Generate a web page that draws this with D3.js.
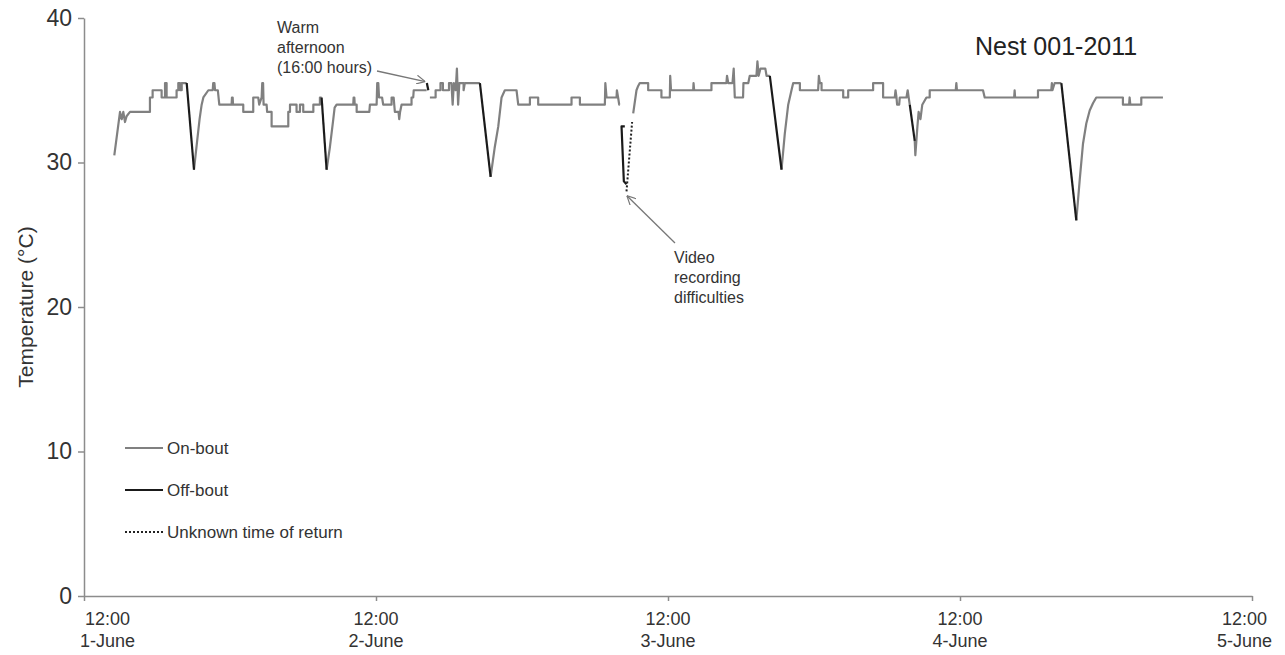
<!DOCTYPE html>
<html>
<head>
<meta charset="utf-8">
<script src="https://cdn.jsdelivr.net/npm/d3@7"></script>
<style>
  body { margin: 0; background: #fff; }
  svg { font-family: "Liberation Sans", Arial, sans-serif; }
</style>
</head>
<body>
<div class="container"></div>
<script>
// nest temperature, [hours after 12:00 on 1-June, deg C]
var onBout = [
  [[2.49,30.5],[2.96,33.5],[3.10,33],[3.23,33.5],[3.37,32.8],[3.5,33.2],[3.78,33.5],[5.42,33.5],[5.42,34.5],[5.64,34.5],[5.64,35],[6.38,35],[6.38,34.5],[6.66,34.5],[6.66,35.5],[6.79,35.5],[6.79,34.5],[7.61,34.5],[7.61,35],[7.75,35],[7.75,35.5],[7.89,35.5],[7.89,35],[8.03,35],[8.03,35.5],[8.44,35.5]],
  [[9.04,29.5],[9.3,31.5],[9.5,33],[9.67,34],[9.81,34.5],[10.22,35],[10.58,35],[10.62,35.5],[10.72,35.5],[10.77,35],[11.0,35],[11.12,34],[12.13,34],[12.16,34.5],[12.22,34.5],[12.25,34],[13.09,34],[13.09,33.5],[13.91,33.5],[13.91,34.5],[14.32,34.5],[14.4,34],[14.6,34.5],[14.65,35.5],[14.72,35.5],[14.76,34],[15.01,34],[15.05,33.5],[15.42,33.5],[15.42,32.5],[16.79,32.5],[16.79,33.5],[16.93,33.5],[16.93,34],[17.47,34],[17.47,33.5],[17.75,33.5],[17.75,34],[18.02,34],[18.02,33.5],[18.85,33.5],[18.85,34],[19.39,34],[19.39,34.5],[19.53,34.5]],
  [[19.94,29.5],[20.2,31],[20.49,33],[20.6,33.8],[20.76,34],[22.13,34],[22.16,34.5],[22.22,34.5],[22.25,34],[22.41,34],[22.41,33.5],[23.45,33.5],[23.5,34],[24.05,34],[24.1,35.5],[24.19,35.5],[24.25,34.5],[24.5,34.5],[24.59,34],[25.28,34],[25.28,34.5],[25.45,34.5],[25.55,33.5],[25.85,33.5],[25.91,33],[25.98,33.5],[26.1,34],[26.92,34],[26.92,34.5],[27.06,34.5],[27.1,35],[28.16,35]],
  [[28.43,34.5],[28.9,34.5],[28.9,35],[29.3,35],[29.3,35.5],[29.5,35.5],[29.5,35],[30.0,35],[30.0,35.5],[30.2,35.5],[30.3,34],[30.4,35.5],[30.55,35],[30.65,36.5],[30.75,34],[30.85,35.5],[31.2,35.5],[31.2,35],[31.3,35.5],[32.54,35.5]],
  [[33.42,29],[33.75,31],[34.05,32.5],[34.32,34.5],[34.59,35],[35.55,35],[35.69,34],[36.65,34],[36.65,34.5],[37.33,34.5],[37.33,34],[40.07,34],[40.07,34.5],[40.76,34.5],[40.76,34],[42.81,34],[42.85,35.5],[42.95,34.5],[43.77,34.5],[43.8,35],[43.9,34.5],[43.99,34],[44.04,34]],
  [[45.14,33.4],[45.41,35],[45.55,35.3],[45.68,35.5],[46.37,35.5],[46.37,35],[47.46,35],[47.46,34.5],[48.15,34.5],[48.18,36],[48.25,35],[50.07,35],[50.1,35.5],[50.15,35],[51.57,35],[51.57,35.5],[52.8,35.5],[52.85,36],[52.95,35.5],[53.3,35.5],[53.4,36.5],[53.49,34.5],[54.17,34.5],[54.2,35.5],[54.6,35.5],[54.72,36],[55.27,36],[55.35,37],[55.45,36],[55.6,36.5],[56.0,36.5],[56.1,36],[56.37,36]],
  [[57.33,29.5],[57.6,32],[57.88,34],[58.15,35],[58.29,35.5],[58.84,35.5],[58.84,35],[60.34,35],[60.4,36],[60.48,35.5],[60.62,35.5],[60.62,35],[62.4,35],[62.4,34.5],[62.81,34.5],[62.81,35],[64.86,35],[64.86,35.5],[65.68,35.5],[65.68,34.5],[66.64,34.5],[66.7,35],[66.78,34.5],[66.83,34],[67.0,34],[67.05,34.5],[67.6,34.5],[67.7,35],[67.78,34.5],[67.87,34]],
  [[68.28,31.5],[68.33,30.5],[68.5,32.5],[68.6,33.5],[68.75,33],[68.9,34],[69.24,34.5],[69.51,34.5],[69.51,35],[71.65,35],[71.7,35.5],[71.75,35],[73.89,35],[74.03,34.5],[76.45,34.5],[76.49,35],[76.53,34.5],[78.41,34.5],[78.41,35],[79.5,35],[79.55,35.5],[79.6,35],[79.78,35.5],[80.33,35.5]],
  [[81.56,26],[81.84,28.8],[82.11,31.3],[82.38,32.7],[82.66,33.6],[82.93,34.1],[83.2,34.5],[85.39,34.5],[85.39,34],[85.9,34],[85.94,34.5],[86.0,34],[86.9,34],[86.9,34.5],[88.68,34.5]]
];
var offBout = [
  [[8.44,35.5],[9.04,29.5]],
  [[19.53,34.5],[19.94,29.5]],
  [[28.18,35.5],[28.3,35]],
  [[32.54,35.5],[33.42,29]],
  [[44.45,32.5],[44.18,32.5],[44.37,28.7],[44.59,28.5]],
  [[56.37,36],[57.33,29.5]],
  [[67.87,34],[68.28,31.5]],
  [[80.33,35.5],[81.56,26]]
];
var unknownReturn = [[44.59,28],[45.05,32.8]];

var yTicks = [0, 10, 20, 30, 40];
var xTicks = [0, 24, 48, 72, 96];
var xTimeLabels = ["12:00", "12:00", "12:00", "12:00", "12:00"];
var xDayLabels = ["1-June", "2-June", "3-June", "4-June", "5-June"];
var legendLabels = ["On-bout", "Off-bout", "Unknown time of return"];

var width = 1285, height = 655;
var grey = "#808080", axisGrey = "#8c8c8c", textCol = "#333";

var svg = d3.select(".container").append("svg")
  .attr("width", width).attr("height", height);

var x = d3.scaleLinear().domain([0, 96]).range([84, 1252]);
var y = d3.scaleLinear().domain([0, 40]).range([596, 18]);

// y axis
var yAxis = svg.append("g")
  .attr("transform", "translate(84,0)")
  .call(d3.axisLeft(y).tickValues(yTicks).tickSize(6).tickSizeOuter(0).tickPadding(6));
yAxis.attr("font-family", null).attr("font-size", null);
yAxis.select(".domain").attr("stroke", axisGrey).attr("stroke-width", 1.5);
yAxis.selectAll(".tick line").attr("stroke", axisGrey).attr("stroke-width", 1.5);
yAxis.selectAll(".tick text").attr("font-size", 23).attr("fill", textCol);

// x axis
var xAxis = svg.append("g")
  .attr("transform", "translate(0,596)")
  .call(d3.axisBottom(x).tickValues(xTicks).tickSize(5).tickSizeOuter(0).tickFormat(""));
xAxis.select(".domain").attr("stroke", axisGrey).attr("stroke-width", 1.5);
xAxis.selectAll(".tick line").attr("stroke", axisGrey).attr("stroke-width", 1.5);

var xLab = svg.append("g").attr("font-size", 18).attr("fill", textCol).attr("text-anchor", "middle");
xTicks.forEach(function(t, i) {
  var g = xLab.append("text").attr("x", x(t)).attr("y", 625);
  g.append("tspan").attr("x", x(t)).text(xTimeLabels[i]);
  g.append("tspan").attr("x", x(t)).attr("dy", 22).text(xDayLabels[i]);
  // keep labels inside the chart area like the original
  var bb = g.node().getBBox();
  var shift = 0;
  if (bb.x < 80) shift = 80 - bb.x;
  if (bb.x + bb.width > 1272) shift = 1272 - (bb.x + bb.width);
  g.selectAll("tspan").attr("x", x(t) + shift);
});

// y title
svg.append("text")
  .attr("transform", "translate(33,307) rotate(-90)")
  .attr("text-anchor", "middle")
  .attr("font-size", 21).attr("fill", textCol)
  .text("Temperature (°C)");

// chart title
svg.append("text").attr("x", 975).attr("y", 55)
  .attr("font-size", 25).attr("fill", "#222")
  .text("Nest 001-2011");

var line = d3.line().x(function(d) { return x(d[0]); }).y(function(d) { return y(d[1]); });

svg.selectAll("path.on").data(onBout).enter().append("path")
  .attr("class", "on").attr("d", line)
  .attr("fill", "none").attr("stroke", grey).attr("stroke-width", 2.2)
  .attr("stroke-linejoin", "round");

svg.selectAll("path.off").data(offBout).enter().append("path")
  .attr("class", "off").attr("d", line)
  .attr("fill", "none").attr("stroke", "#1a1a1a").attr("stroke-width", 2.2)
  .attr("stroke-linejoin", "round");

svg.append("path").datum(unknownReturn).attr("d", line)
  .attr("fill", "none").attr("stroke", "#222").attr("stroke-width", 2)
  .attr("stroke-dasharray", "2,2");

// legend
var legStyles = [
  { stroke: grey, dash: null, w: 2.2 },
  { stroke: "#1a1a1a", dash: null, w: 2.2 },
  { stroke: "#222", dash: "2,2", w: 1.8 }
];
var leg = svg.selectAll("g.leg").data(legendLabels).enter().append("g")
  .attr("class", "leg")
  .attr("transform", function(d, i) { return "translate(125," + (448 + i * 42) + ")"; });
leg.append("line").attr("x1", 0).attr("x2", 38).attr("y1", 0).attr("y2", 0)
  .attr("stroke", function(d, i) { return legStyles[i].stroke; })
  .attr("stroke-width", function(d, i) { return legStyles[i].w; })
  .attr("stroke-dasharray", function(d, i) { return legStyles[i].dash; });
leg.append("text").attr("x", 42).attr("y", 6)
  .attr("font-size", 17).attr("fill", textCol)
  .text(function(d) { return d; });

// annotations
var defs = svg.append("defs");
defs.append("marker").attr("id", "arrow")
  .attr("viewBox", "0 0 10 10").attr("refX", 10).attr("refY", 5)
  .attr("markerWidth", 9).attr("markerHeight", 9).attr("orient", "auto")
  .attr("markerUnits", "userSpaceOnUse")
  .append("path").attr("d", "M0,0 L10,5 L0,10")
  .attr("fill", "none").attr("stroke", "#777").attr("stroke-width", 1.3);

function note(lines, tx, ty, from, to) {
  var t = svg.append("text").attr("font-size", 16).attr("fill", textCol);
  lines.forEach(function(s, i) {
    t.append("tspan").attr("x", tx).attr("y", ty + i * 20).text(s);
  });
  svg.append("line")
    .attr("x1", from[0]).attr("y1", from[1]).attr("x2", to[0]).attr("y2", to[1])
    .attr("stroke", "#777").attr("stroke-width", 1.3)
    .attr("marker-end", "url(#arrow)");
}
note(["Warm", "afternoon", "(16:00 hours)"], 277, 33, [377, 71], [x(28.05), y(35.6)]);
note(["Video", "recording", "difficulties"], 674, 263, [675, 243], [x(44.62), y(27.7)]);
</script>
</body>
</html>
